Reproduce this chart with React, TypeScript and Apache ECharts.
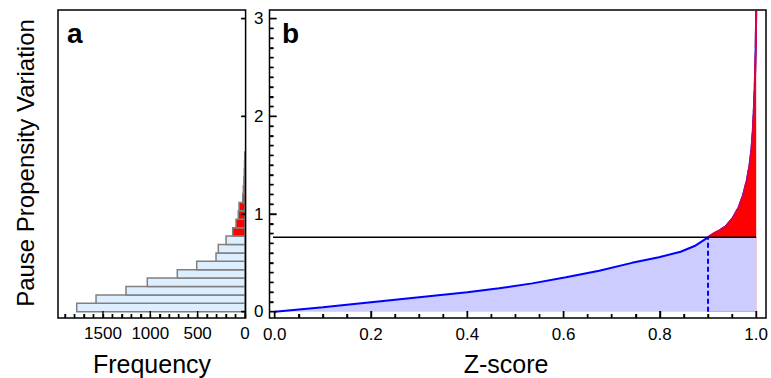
import React, { useEffect, useRef } from "react";
import * as echarts from "echarts";

// Histogram (panel a): bin edges on "Pause Propensity Variation", counts
const histBinStarts = [0, 0.086, 0.172, 0.258, 0.344, 0.43, 0.516, 0.602, 0.688, 0.774, 0.86, 0.946, 1.032, 1.118, 1.204, 1.29, 1.376, 1.462, 1.548];
const histBinEnds = [0.086, 0.172, 0.258, 0.344, 0.43, 0.516, 0.602, 0.688, 0.774, 0.86, 0.946, 1.032, 1.118, 1.204, 1.29, 1.376, 1.462, 1.548, 1.634];
const histCounts = [1777, 1573, 1257, 1032, 715, 510, 306, 282, 200, 130, 95, 71, 63, 24, 18, 12, 8, 5, 3];

// Curve (panel b): Z-score vs Pause Propensity Variation
const curveZ = [0, 0.1, 0.2, 0.3, 0.4, 0.466, 0.535, 0.605, 0.674, 0.742, 0.798, 0.843, 0.872, 0.9, 0.92, 0.936, 0.95, 0.963, 0.972, 0.98, 0.986, 0.99, 0.993, 0.995, 0.997, 0.999, 1.0];
const curveV = [0, 0.045, 0.096, 0.148, 0.198, 0.24, 0.29, 0.352, 0.42, 0.5, 0.557, 0.614, 0.672, 0.761, 0.82, 0.87, 0.95, 1.06, 1.18, 1.33, 1.49, 1.65, 1.85, 2.05, 2.3, 2.7, 3.08];

const threshold = 0.761;
const thresholdZ = 0.9;

// tick values
const yTicksMajor = [0, 1, 2, 3];
const yTicksMinor = [0.1, 0.2, 0.3, 0.4, 0.5, 0.6, 0.7, 0.8, 0.9, 1.1, 1.2, 1.3, 1.4, 1.5, 1.6, 1.7, 1.8, 1.9, 2.1, 2.2, 2.3, 2.4, 2.5, 2.6, 2.7, 2.8, 2.9];
const zTicksMajor = [0, 0.2, 0.4, 0.6, 0.8, 1.0];
const zTicksMinor = [0.05, 0.1, 0.15, 0.25, 0.3, 0.35, 0.45, 0.5, 0.55, 0.65, 0.7, 0.75, 0.85, 0.9, 0.95];
const freqTicksMajor = [0, 500, 1000, 1500];
const freqTicksMinor = [100, 200, 300, 400, 600, 700, 800, 900, 1100, 1200, 1300, 1400, 1600, 1700, 1800, 1900];

const FONT = '"Liberation Sans", Arial, Helvetica, sans-serif';

export default function App() {
  const ref = useRef<HTMLDivElement>(null);
  useEffect(() => {
    if (!ref.current) return;
    const chart = echarts.init(ref.current, null, { renderer: "svg" });

    const curve = curveZ.map((z, i) => [z, curveV[i]]);
    const blueFill = curve
      .filter((p) => p[0] <= thresholdZ)
      .concat([[1.0, threshold]]);
    const redFill = curve.filter((p) => p[0] >= thresholdZ);
    const hist = histCounts.map((c, i) => [histBinStarts[i], histBinEnds[i], c]);

    const labelStyle = { color: "#000", fontSize: 17, fontFamily: FONT };
    const noLine = { show: false, onZero: false };
    const tickLine = { color: "#000", width: 1.4 };

    // frame geometry (pixels)
    const aL = 58, aR = 245.6, top = 10, bot = 318;
    const bL = 269.5, bR = 766;
    const y0px = 311.7;   // y = 0
    const y3px = 18.6;    // y = 3
    const aZero = 245;    // frequency 0
    const aPerUnit = 0.0947;
    const bZero = 274.7;  // z = 0
    const bOne = 757.7;   // z = 1
    const frameZVal = -(bZero - bL) / (bOne - bZero);

    const tickItem = (dir: "up" | "left" | "right", dx: number, dy: number) => (params: any, api: any) => {
      const p = api.coord([api.value(0), api.value(1)]);
      const len = api.value(2) ? 7 : 4;
      const x1 = p[0] + dx;
      const y1 = p[1] + dy;
      let x2 = x1, y2 = y1;
      if (dir === "up") y2 = y1 - len;
      if (dir === "right") x2 = x1 + len;
      if (dir === "left") x2 = x1 - len;
      return { type: "line", shape: { x1, y1, x2, y2 }, style: { stroke: "#000", lineWidth: 1.4, fill: null } };
    };

    const ticksBY = yTicksMajor.map((v) => [0, v, 1]).concat(yTicksMinor.map((v) => [0, v, 0]));
    const ticksBX = zTicksMajor.map((v) => [v, 0, 1]).concat(zTicksMinor.map((v) => [v, 0, 0]));
    const ticksAX = freqTicksMajor.map((v) => [v, 0, 1]).concat(freqTicksMinor.map((v) => [v, 0, 0]));
    const ticksAY = yTicksMajor.map((v) => [0, v, 0]);

    chart.setOption({
      animation: false,
      backgroundColor: "#fff",
      grid: [
        { left: aZero - 1900 * aPerUnit, right: 771 - aZero, top: y3px, bottom: 378 - y0px, show: false },
        { left: bZero, right: 771 - bOne, top: y3px, bottom: 378 - y0px, show: false },
      ],
      xAxis: [
        {
          gridIndex: 0, type: "value", inverse: true, min: 0, max: 1900, interval: 100, position: "bottom", offset: bot - y0px, z: 20,
          axisLine: noLine,
          axisTick: { show: true, inside: true, length: 4, lineStyle: tickLine },
          axisLabel: { show: true, margin: 7, formatter: (v: number) => (v % 500 === 0 ? String(v) : ""), ...labelStyle },
          splitLine: { show: false },
        },
        {
          gridIndex: 1, type: "value", min: 0, max: 1, interval: 0.2, position: "bottom", offset: bot - y0px, z: 20,
          axisLine: noLine,
          axisTick: { show: true, inside: true, length: 7, lineStyle: tickLine },
          minorTick: { show: true, splitNumber: 4, length: 4, lineStyle: tickLine },
          axisLabel: { show: true, margin: 8, formatter: (v: number) => v.toFixed(1), ...labelStyle },
          splitLine: { show: false },
        },
      ],
      yAxis: [
        {
          gridIndex: 0, type: "value", min: 0, max: 3, interval: 1, position: "right", z: 20,
          axisLine: noLine,
          axisTick: { show: true, inside: true, length: 4, lineStyle: tickLine },
          axisLabel: { show: false },
          splitLine: { show: false },
        },
        {
          gridIndex: 1, type: "value", min: 0, max: 3, interval: 1, position: "left", offset: bZero - bL, z: 20,
          axisLine: noLine,
          axisTick: { show: true, inside: true, length: 7, lineStyle: tickLine },
          minorTick: { show: true, splitNumber: 10, length: 4, lineStyle: tickLine },
          axisLabel: { show: true, margin: 6, ...labelStyle },
          splitLine: { show: false },
        },
      ],
      series: [
        {
          type: "custom", xAxisIndex: 0, yAxisIndex: 0, data: hist,
          encode: { x: 2, y: [0, 1] }, clip: false, z: 2,
          renderItem: (params: any, api: any) => {
            const v0 = api.value(0);
            const v1 = api.value(1);
            const c = api.value(2);
            const p0 = api.coord([0, v0]);
            const p1 = api.coord([c, v1]);
            const red = v0 >= threshold;
            return {
              type: "rect",
              shape: {
                x: Math.min(p0[0], p1[0]),
                y: Math.min(p0[1], p1[1]),
                width: Math.abs(p1[0] - p0[0]),
                height: Math.abs(p1[1] - p0[1]),
              },
              style: { fill: red ? "#ff0000" : "#ddeeff", stroke: "#808080", lineWidth: 1.5 },
            };
          },
        },
        {
          type: "line", xAxisIndex: 1, yAxisIndex: 1, data: blueFill, symbol: "none", clip: false,
          lineStyle: { width: 0 }, areaStyle: { color: "#ccccff", opacity: 1 }, z: 2,
        },
        {
          type: "line", xAxisIndex: 1, yAxisIndex: 1, data: curve, symbol: "none", clip: false,
          lineStyle: { color: "#0000ff", width: 2 }, z: 3,
        },
        {
          type: "line", xAxisIndex: 1, yAxisIndex: 1, data: redFill, symbol: "none", clip: false,
          smooth: 0.2, smoothMonotone: "x",
          lineStyle: { color: "#dd0044", width: 2 }, areaStyle: { color: "#ff0000", opacity: 1 }, z: 4,
        },
        {
          type: "line", xAxisIndex: 1, yAxisIndex: 1, data: [[thresholdZ, threshold], [1.0, threshold]], symbol: "none", clip: false,
          lineStyle: { width: 0 }, areaStyle: { color: "#ccccff", opacity: 1 }, z: 5,
        },
        {
          type: "line", xAxisIndex: 1, yAxisIndex: 1, data: [[frameZVal, threshold], [1.0, threshold]], symbol: "none", clip: false,
          lineStyle: { color: "#000", width: 1.5 }, z: 6,
        },
        {
          type: "line", xAxisIndex: 1, yAxisIndex: 1, data: [[thresholdZ, 0], [thresholdZ, threshold]], symbol: "none", clip: false,
          lineStyle: { color: "#0000ff", width: 2, type: [5, 3] }, z: 6,
        },
        { type: "custom", xAxisIndex: 1, yAxisIndex: 1, data: ticksBY, encode: { x: 0, y: 1 }, clip: false, z: 7, renderItem: tickItem("right", bL - bZero, 0) },
        { type: "custom", xAxisIndex: 1, yAxisIndex: 1, data: ticksBX, encode: { x: 0, y: 1 }, clip: false, z: 7, renderItem: tickItem("up", 0, bot - y0px) },
        { type: "custom", xAxisIndex: 0, yAxisIndex: 0, data: ticksAX, encode: { x: 0, y: 1 }, clip: false, z: 7, renderItem: tickItem("up", 0, bot - y0px) },
        { type: "custom", xAxisIndex: 0, yAxisIndex: 0, data: ticksAY, encode: { x: 0, y: 1 }, clip: false, z: 7, renderItem: tickItem("left", aR - aZero, 0) },
      ],
      graphic: [
        { type: "rect", z: 100, shape: { x: aL, y: top, width: aR - aL, height: bot - top }, style: { fill: "none", stroke: "#000", lineWidth: 1.5 } },
        { type: "rect", z: 100, shape: { x: bL, y: top, width: bR - bL, height: bot - top }, style: { fill: "none", stroke: "#000", lineWidth: 1.5 } },
        { type: "text", x: 25, y: 163, rotation: Math.PI / 2, style: { text: "Pause Propensity Variation", font: `24px ${FONT}`, fill: "#000", align: "center", verticalAlign: "middle" } },
        { type: "text", x: 152, y: 364, style: { text: "Frequency", font: `25px ${FONT}`, fill: "#000", align: "center", verticalAlign: "middle" } },
        { type: "text", x: 506, y: 364, style: { text: "Z-score", font: `25px ${FONT}`, fill: "#000", align: "center", verticalAlign: "middle" } },
        { type: "text", x: 67, y: 33, style: { text: "a", font: `bold 28px ${FONT}`, fill: "#000", align: "left", verticalAlign: "middle" } },
        { type: "text", x: 282, y: 33, style: { text: "b", font: `bold 28px ${FONT}`, fill: "#000", align: "left", verticalAlign: "middle" } },
      ],
    });
    return () => chart.dispose();
  }, []);
  return <div ref={ref} style={{ width: 771, height: 378, position: "absolute", left: 0, top: 0 }} />;
}
